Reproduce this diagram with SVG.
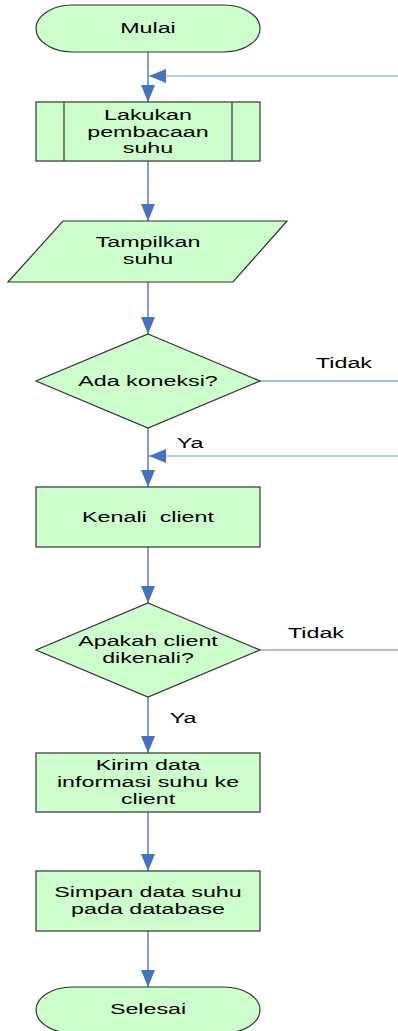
<svg xmlns="http://www.w3.org/2000/svg" width="398" height="1031" viewBox="0 0 398 1031">
<style>
.shape{fill:#ccffcc;stroke:#333333;stroke-width:1.2}
.t{font-family:"Liberation Sans",Arial,sans-serif;font-size:15.5px;fill:#000000;text-anchor:middle}
.c{fill:none;stroke:#7f9ed6;stroke-width:2}
.s{fill:none;stroke:#7f9ed6;stroke-width:1.2}
.l{fill:none;stroke:#a9c0e6;stroke-width:2}
</style>
<defs>
<marker id="ah" markerUnits="userSpaceOnUse" markerWidth="18" markerHeight="14" viewBox="0 0 18 14" refX="17" refY="7" orient="auto">
<path d="M0,0 L17,7 L0,14 Z" fill="#4472c4"/>
</marker>
</defs>
<g id="connectors">
<line class="c" x1="148" y1="52" x2="148" y2="102" marker-end="url(#ah)"/>
<line class="s" x1="398" y1="76" x2="149" y2="76" marker-end="url(#ah)"/>
<line class="c" x1="148" y1="161" x2="148" y2="221" marker-end="url(#ah)"/>
<line class="c" x1="148" y1="282" x2="148" y2="334" marker-end="url(#ah)"/>
<line class="l" x1="260" y1="381" x2="398" y2="381"/>
<line class="c" x1="148" y1="428" x2="148" y2="487" marker-end="url(#ah)"/>
<line class="s" x1="398" y1="456" x2="149" y2="456" marker-end="url(#ah)"/>
<line class="c" x1="148" y1="547" x2="148" y2="603" marker-end="url(#ah)"/>
<line class="l" x1="260" y1="650" x2="398" y2="650"/>
<line class="c" x1="148" y1="697" x2="148" y2="753" marker-end="url(#ah)"/>
<line class="c" x1="148" y1="812" x2="148" y2="871" marker-end="url(#ah)"/>
<line class="c" x1="148" y1="931" x2="148" y2="987" marker-end="url(#ah)"/>
<text class="t" transform="translate(344,368) scale(1.5,1)" x="0" y="0">Tidak</text>
<text class="t" transform="translate(190,448) scale(1.5,1)" x="0" y="0">Ya</text>
<text class="t" transform="translate(316,638) scale(1.5,1)" x="0" y="0">Tidak</text>
<text class="t" transform="translate(183,723) scale(1.5,1)" x="0" y="0">Ya</text>
</g>
<g id="mulai">
<rect class="shape" x="36" y="5" width="224" height="47" rx="36" ry="23.5"/>
<text class="t" transform="translate(148,33) scale(1.5,1)" x="0" y="0">Mulai</text>
</g>
<g id="baca">
<rect class="shape" x="36" y="102" width="224" height="59"/>
<line class="shape" x1="64" y1="102" x2="64" y2="161"/>
<line class="shape" x1="232" y1="102" x2="232" y2="161"/>
<text class="t" transform="translate(148,120) scale(1.5,1)" x="0" y="0">Lakukan</text>
<text class="t" transform="translate(148,137) scale(1.5,1)" x="0" y="0">pembacaan</text>
<text class="t" transform="translate(148,153) scale(1.5,1)" x="0" y="0">suhu</text>
</g>
<g id="tampil">
<polygon class="shape" points="63,221 287,221 233,282 8,282"/>
<text class="t" transform="translate(148,247) scale(1.5,1)" x="0" y="0">Tampilkan</text>
<text class="t" transform="translate(148,264) scale(1.5,1)" x="0" y="0">suhu</text>
</g>
<g id="koneksi">
<polygon class="shape" points="148,334 260,381 148,428 36,381"/>
<text class="t" transform="translate(148,386) scale(1.5,1)" x="0" y="0">Ada koneksi?</text>
</g>
<g id="kenali">
<rect class="shape" x="36" y="487" width="224" height="60"/>
<text class="t" transform="translate(148,522) scale(1.5,1)" x="0" y="0" xml:space="preserve">Kenali  client</text>
</g>
<g id="dikenali">
<polygon class="shape" points="148,603 260,650 148,697 36,650"/>
<text class="t" transform="translate(148,646) scale(1.5,1)" x="0" y="0">Apakah client</text>
<text class="t" transform="translate(148,663) scale(1.5,1)" x="0" y="0">dikenali?</text>
</g>
<g id="kirim">
<rect class="shape" x="36" y="753" width="224" height="59"/>
<text class="t" transform="translate(148,770) scale(1.5,1)" x="0" y="0">Kirim data</text>
<text class="t" transform="translate(148,787) scale(1.5,1)" x="0" y="0">informasi suhu ke</text>
<text class="t" transform="translate(148,804) scale(1.5,1)" x="0" y="0">client</text>
</g>
<g id="simpan">
<rect class="shape" x="36" y="871" width="224" height="60"/>
<text class="t" transform="translate(148,897) scale(1.5,1)" x="0" y="0">Simpan data suhu</text>
<text class="t" transform="translate(148,914) scale(1.5,1)" x="0" y="0">pada database</text>
</g>
<g id="selesai">
<rect class="shape" x="36" y="987" width="224" height="46" rx="36" ry="23"/>
<text class="t" transform="translate(148,1014) scale(1.5,1)" x="0" y="0">Selesai</text>
</g>
</svg>
